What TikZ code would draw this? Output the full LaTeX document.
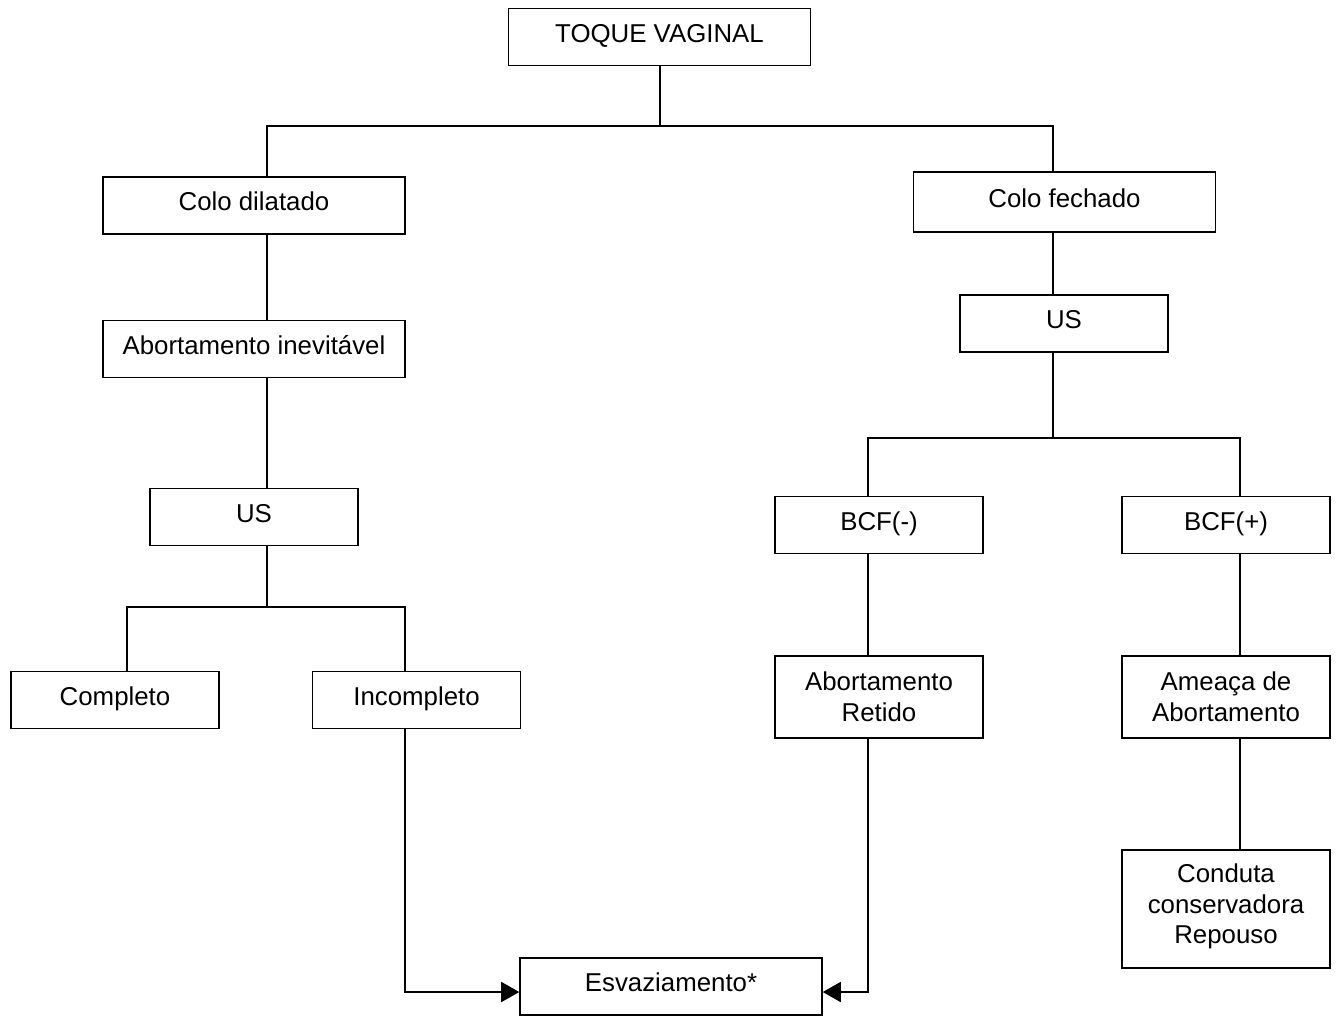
\documentclass[tikz,border=0pt]{standalone}
\usepackage{fontspec}
\setmainfont{Liberation Sans}
\usetikzlibrary{arrows.meta}
\tikzset{
  caixa/.style={draw, line width=0.9pt, align=center, inner sep=0pt, minimum height=1.14cm, font=\fontsize{14.7}{17.4}\selectfont},
  umalinha/.style={text height=11pt, text depth=5pt},
  larga/.style={caixa, umalinha, minimum width=6.04cm},
  estreita/.style={caixa, umalinha, minimum width=4.16cm},
  bloco/.style={caixa, minimum width=4.16cm},
  liga/.style={line width=1pt},
  seta/.style={liga, -{Triangle[length=0.36cm, width=0.4cm]}}
}
\begin{document}
\begin{tikzpicture}[x=0.02cm, y=-0.02cm]
	\useasboundingbox (0,0) rectangle (1339,1015);
	% Caixas:
	\node[larga] (tv) at (659.5,37) {TOQUE VAGINAL};
	\node[larga] (cd) at (254,205.5) {Colo dilatado};
	\node[larga, minimum height=1.2cm] (cf) at (1064.5,202) {Colo fechado};
	\node[larga] (ai) at (254,349) {Abortamento inevitável};
	\node[estreita] (usL) at (254,517) {US};
	\node[estreita] (usR) at (1064,323.5) {US};
	\node[estreita] (comp) at (115,700) {Completo};
	\node[estreita] (inc) at (416.5,700) {Incompleto};
	\node[estreita] (bn) at (879,525) {BCF(-)};
	\node[estreita] (bp) at (1226,525) {BCF(+)};
	\node[bloco, minimum height=1.64cm] (ar) at (879,697) {Abortamento\\Retido};
	\node[bloco, minimum height=1.64cm] (am) at (1226,697) {Ameaça de\\Abortamento};
	\node[bloco, minimum height=2.36cm, text depth=6pt] (cc) at (1226,909) {Conduta\\conservadora\\Repouso};
	\node[larga] (esv) at (671,986.5) {Esvaziamento*};
	% Pontos das ligações:
	\coordinate (busT) at (660,126);
	\coordinate (colL) at (267,126);
	\coordinate (colR) at (1053,126);
	\coordinate (xCo) at (127,607);
	\coordinate (xIn) at (405,607);
	\coordinate (xBn) at (868,438);
	\coordinate (xBp) at (1240,438);
	\coordinate (yArr) at (671,992);
	% Ligações:
	\draw[liga] (tv.south -| busT) -- (busT);
	\draw[liga] (cd.north -| colL) -- (colL) -- (colR) -- (cf.north -| colR);
	\draw[liga] (cd.south -| colL) -- (ai.north -| colL);
	\draw[liga] (ai.south -| colL) -- (usL.north -| colL);
	\draw[liga] (usL.south -| colL) -- (colL |- xCo);
	\draw[liga] (comp.north -| xCo) -- (xCo) -- (xIn) -- (inc.north -| xIn);
	\draw[liga] (cf.south -| colR) -- (usR.north -| colR);
	\draw[liga] (usR.south -| colR) -- (colR |- xBn);
	\draw[liga] (bn.north -| xBn) -- (xBn) -- (xBp) -- (bp.north -| xBp);
	\draw[liga] (bn.south -| xBn) -- (ar.north -| xBn);
	\draw[liga] (bp.south -| xBp) -- (am.north -| xBp);
	\draw[liga] (am.south -| xBp) -- (cc.north -| xBp);
	\draw[seta] (inc.south -| xIn) |- (esv.west |- yArr);
	\draw[seta] (ar.south -| xBn) |- (esv.east |- yArr);
\end{tikzpicture}
\end{document}
